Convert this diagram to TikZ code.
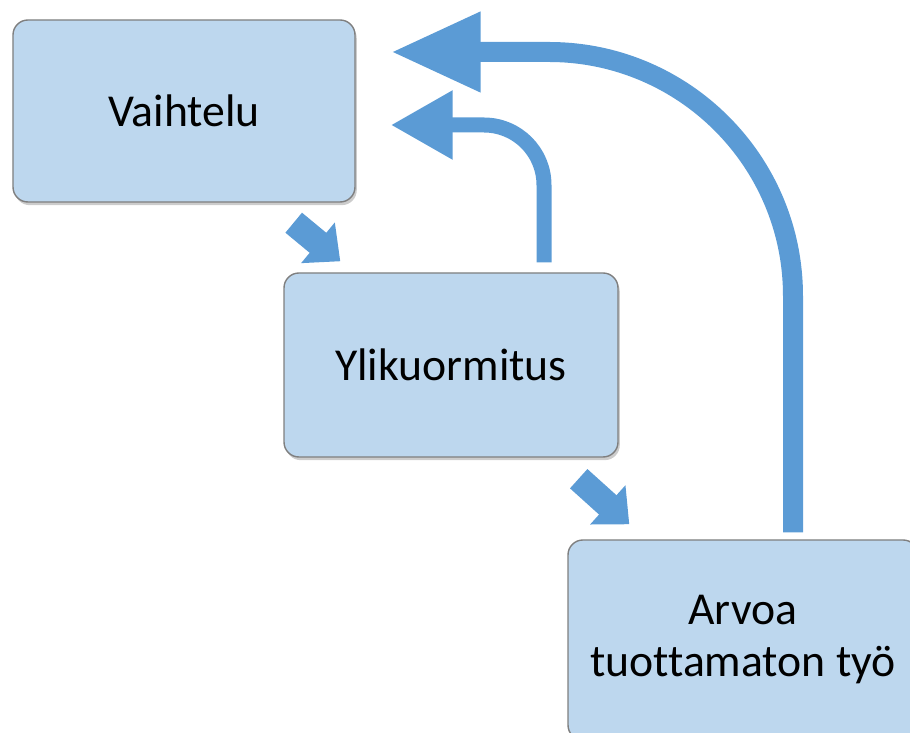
\documentclass[tikz,border=0pt]{standalone}
\usepackage{fontspec}
\setmainfont{Carlito}[Ligatures=NoCommon]
\usepackage{tikz}
\usetikzlibrary{positioning, arrows.meta, calc, shadows}
\definecolor{boxblue}{HTML}{BDD7EE}
\definecolor{boxline}{HTML}{7F7F7F}
\definecolor{arrowblue}{HTML}{5B9BD5}

\begin{document}
\begin{tikzpicture}[font=\fontsize{26}{29.6}\selectfont,
  stagebox/.style={fill=boxblue, draw=boxline, line width=0.8pt, rounded corners=8.5pt,
    align=center, inner sep=0pt,
    drop shadow={shadow xshift=1pt, shadow yshift=-1.8pt, opacity=0.4}},
  steparrow/.style={arrowblue, line width=0.52cm, -{Triangle[length=0.58cm, width=1.02cm]}},
  backarrow/.style={arrowblue, line width=0.3cm, rounded corners=1.2cm,
    -{Triangle[length=1.24cm, width=1.3cm]}},
  longarrow/.style={arrowblue, line width=0.4cm, rounded corners=4.88cm,
    -{Triangle[length=1.8cm, width=1.5cm]}}]
  \useasboundingbox (0,0) rectangle (18.2,14.66);
  \begin{scope}
    \clip (0,0) rectangle (18.2,14.66);
    \node[stagebox, minimum width=6.84cm, minimum height=3.64cm] (vaihtelu) at (3.68,12.44)
      {Vaihtelu};
    \node[stagebox, minimum width=6.68cm, minimum height=3.68cm] (ylikuorm) at (9.02,7.36)
      {Ylikuormitus};
    \node[stagebox, minimum width=7cm, minimum height=4cm] (arvoa) at (14.86,1.86)
      {Arvoa\\ tuottamaton työ};
  \end{scope}
  \draw[steparrow] ([xshift=-1.24cm, yshift=-4mm]vaihtelu.south east)
    -- ([xshift=1.14cm, yshift=2.2mm]ylikuorm.north west);
  \draw[steparrow] ([xshift=-0.8cm, yshift=-4.2mm]ylikuorm.south east)
    -- ([xshift=1.24cm, yshift=3mm]arvoa.north west);
  \draw[backarrow] ([xshift=1.86cm, yshift=2mm]ylikuorm.north)
    |- ([xshift=7mm, yshift=-2.8mm]vaihtelu.east);
  \draw[longarrow] ([xshift=1cm, yshift=1.4mm]arvoa.north)
    |- ([xshift=7mm, yshift=11.8mm]vaihtelu.east);
\end{tikzpicture}
\end{document}
